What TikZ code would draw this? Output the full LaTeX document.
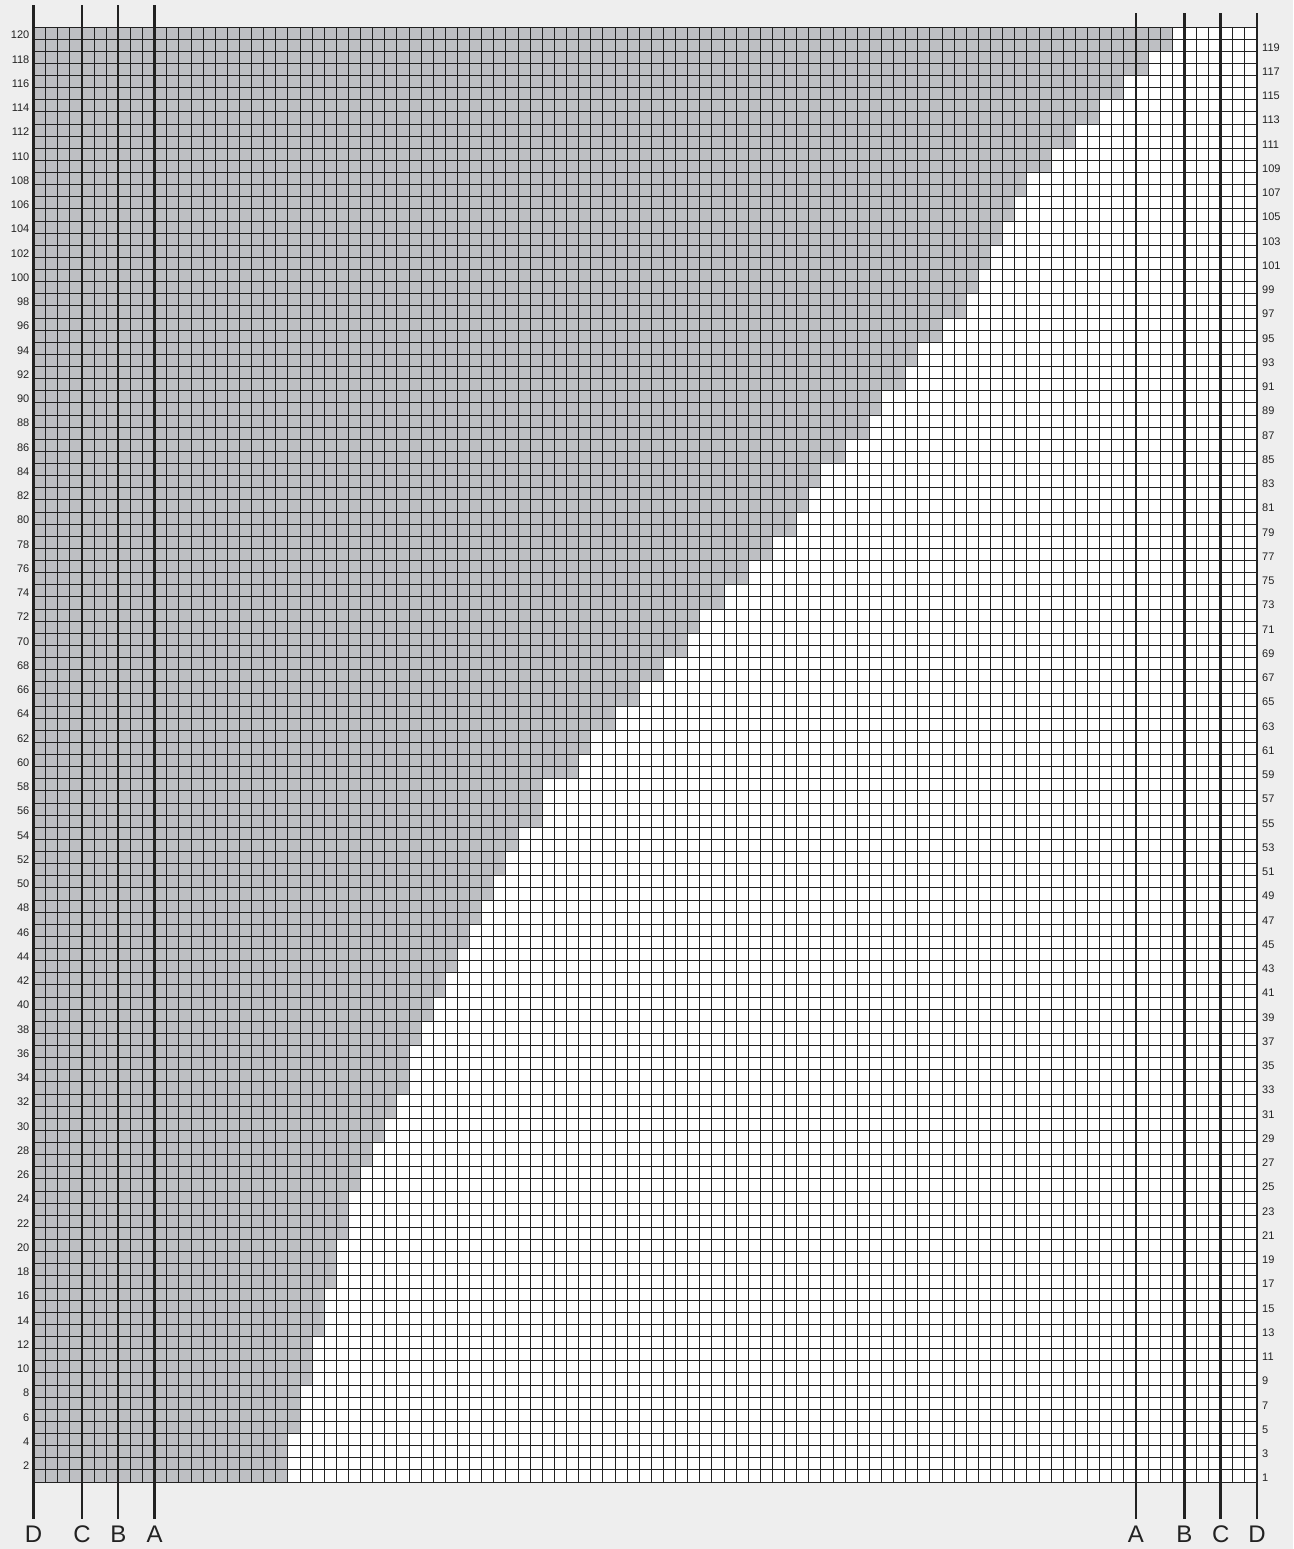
\documentclass[tikz,border=0pt]{standalone}
\usepackage{fontspec}
\setmainfont{Liberation Sans}
\definecolor{bggrey}{RGB}{238,238,238}
\definecolor{cellgrey}{RGB}{190,191,195}
\definecolor{inkc}{RGB}{34,34,34}
\begin{document}
\begin{tikzpicture}[x=1pt,y=1pt,
  greycells/.style={fill=cellgrey},
  gridline/.style={draw=inkc,line width=0.9pt},
  guide/.style={draw=inkc,line width=2.4pt},
  rowlabel/.style={font=\fontsize{11}{11}\selectfont,inner sep=0pt,text=inkc},
  guidelabel/.style={font=\fontsize{24}{24}\selectfont,inner sep=0pt,anchor=base,text=inkc}]
\fill[bggrey] (0,0) rectangle (1293,1549);
\useasboundingbox (0,0) rectangle (1293,1549);
\begin{scope}[shift={(33.5,67)},x=12.1139pt,y=12.125pt]
  \fill[white] (0,0) rectangle (101,120);
  \foreach \a/\b/\c in {1/4/21, 5/8/22, 9/12/23, 13/16/24, 17/20/25, 21/24/26,
      25/26/27, 27/28/28, 29/30/29, 31/32/30, 33/36/31, 37/38/32, 39/40/33,
      41/42/34, 43/44/35, 45/46/36, 47/48/37, 49/50/38, 51/52/39, 53/54/40,
      55/58/42, 59/60/45, 61/62/46, 63/64/48, 65/66/50, 67/68/52, 69/70/54,
      71/72/55, 73/74/57, 75/76/59, 77/78/61, 79/80/63, 81/82/64, 83/84/65,
      85/86/67, 87/88/69, 89/90/70, 91/92/72, 93/94/73, 95/96/75, 97/98/77,
      99/100/78, 101/102/79, 103/104/80, 105/106/81, 107/108/82, 109/110/84,
      111/112/86, 113/114/88, 115/116/90, 117/118/92, 119/120/94}
    \fill[greycells] (0,\a-1) rectangle (\c,\b);
  \foreach \i in {0,...,101} \draw[gridline] (\i,0) -- (\i,120);
  \foreach \j in {0,...,120} \draw[gridline] (0,\j) -- (101,\j);
  \foreach \r in {2,4,...,120}
    \node[rowlabel,anchor=base east,xshift=-4pt,yshift=-5.9pt] (L\r) at (0,\r-0.5) {\r};
  \foreach \r in {1,3,...,119}
    \node[rowlabel,anchor=base west,xshift=5pt,yshift=-5.9pt] (R\r) at (101,\r-0.5) {\r};
  % guide lines, left side
  \foreach \c/\t in {0/D,4/C,7/B,10/A} {
    \coordinate (lt\c) at (\c,121.81);
    \coordinate (lb\c) at (\c,-3.05);
    \draw[guide] (lt\c) -- (lb\c);
    \node[guidelabel] (ll\c) at (\c,-5.03) {\t};
  }
  % guide lines, right side
  \foreach \c/\t in {91/A,95/B,98/C,101/D} {
    \coordinate (rt\c) at (\c,121.15);
    \coordinate (rb\c) at (\c,-3.05);
    \draw[guide] (rt\c) -- (rb\c);
    \node[guidelabel] (rl\c) at (\c,-5.03) {\t};
  }
\end{scope}
\end{tikzpicture}
\end{document}
